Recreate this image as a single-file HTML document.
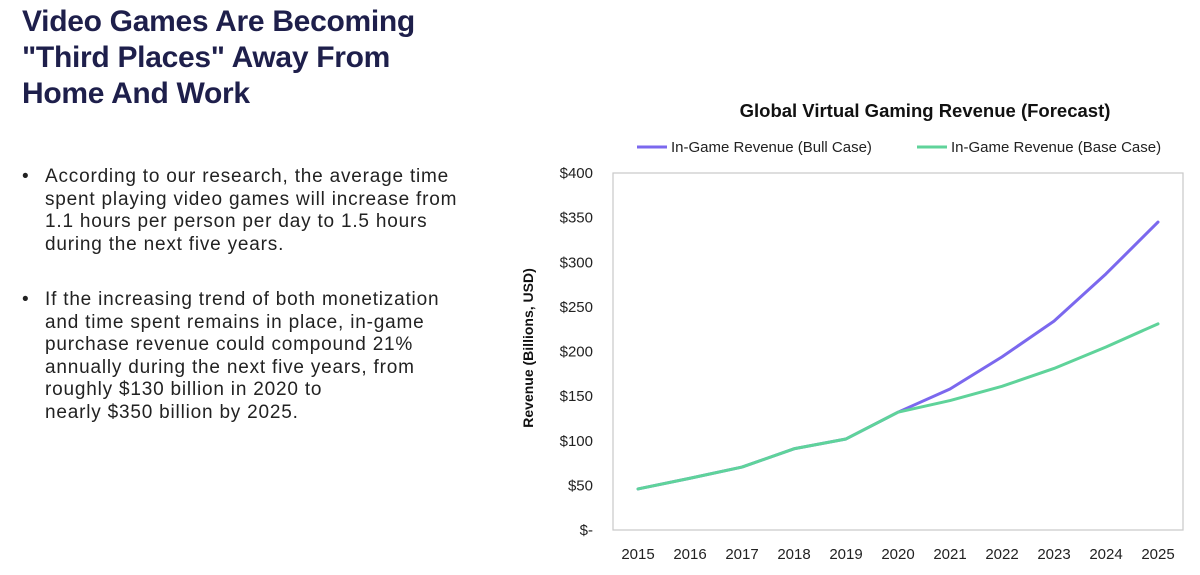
<!DOCTYPE html>
<html><head><meta charset="utf-8"><style>
body{margin:0;width:1200px;height:575px;background:#fff;overflow:hidden;position:relative;font-family:"Liberation Sans",sans-serif;color:#1e1f4b}
h1{position:absolute;left:22px;top:4px;margin:0;font-size:30px;line-height:36px;font-weight:bold;letter-spacing:-0.3px}
.b{position:absolute;left:22px;width:470px;font-size:19px;line-height:22.5px;color:#222;letter-spacing:0.8px;white-space:nowrap}
.b span{position:absolute;left:0}
.b p{margin:0 0 0 23px}
</style></head><body>
<h1>Video Games Are Becoming<br>"Third Places" Away From<br>Home And Work</h1>
<div class="b" style="top:166px"><span>•</span><p>According to our research, the average time<br>spent playing video games will increase from<br>1.1 hours per person per day to 1.5 hours<br>during the next five years.</p></div>
<div class="b" style="top:289px"><span>•</span><p>If the increasing trend of both monetization<br>and time spent remains in place, in-game<br>purchase revenue could compound 21%<br>annually during the next five years, from<br>roughly $130 billion in 2020 to<br>nearly $350 billion by 2025.</p></div>
<svg id="chart" width="1200" height="575" style="position:absolute;left:0;top:0">
<text x="925" y="117" text-anchor="middle" font-size="18.5" font-weight="bold" fill="#111">Global Virtual Gaming Revenue (Forecast)</text>
<line x1="637" y1="147" x2="667" y2="147" stroke="#7b68ee" stroke-width="3"/>
<text x="671" y="152" font-size="15" fill="#222">In-Game Revenue (Bull Case)</text>
<line x1="917" y1="147" x2="947" y2="147" stroke="#5fd39a" stroke-width="3"/>
<text x="951" y="152" font-size="15" fill="#222">In-Game Revenue (Base Case)</text>
<rect x="613" y="173" width="570" height="357" fill="none" stroke="#c8c8c8" stroke-width="1.2"/>
<text transform="translate(533,348) rotate(-90)" text-anchor="middle" font-size="14" font-weight="bold" fill="#111">Revenue (Billions, USD)</text>
<g id="yt"></g><g id="xt"></g><g id="lines"></g>
</svg>
<script>
const years=["2015","2016","2017","2018","2019","2020","2021","2022","2023","2024","2025"];
const bullCase=[46,58,70.5,91,102,132,158,194,234,287,345];
const baseCase=[46,58,70.5,91,102,132,145,161,181,205,231];
const yTicks=[0,50,100,150,200,250,300,350,400];
const yTickLabels=["$-","$50","$100","$150","$200","$250","$300","$350","$400"];
const NS="http://www.w3.org/2000/svg";
const x=i=>638+i*(1158-638)/(years.length-1);
const y=v=>530-v*(530-173)/400;
const yt=document.getElementById('yt'),xt=document.getElementById('xt'),lg=document.getElementById('lines');
yTicks.forEach((v,i)=>{const t=document.createElementNS(NS,'text');


t.setAttribute('x',593);t.setAttribute('y',y(v)+5);t.setAttribute('text-anchor','end');t.setAttribute('font-size','15');t.setAttribute('fill','#222');t.textContent=yTickLabels[i];yt.appendChild(t);});
years.forEach((yr,i)=>{const t=document.createElementNS(NS,'text');


t.setAttribute('x',x(i));t.setAttribute('y',559);t.setAttribute('text-anchor','middle');t.setAttribute('font-size','15');t.setAttribute('fill','#222');t.textContent=yr;xt.appendChild(t);});
function line(arr,color,name){const p=document.createElementNS(NS,'polyline');


p.setAttribute('points',arr.map((v,i)=>x(i)+','+y(v)).join(' '));p.setAttribute('fill','none');p.setAttribute('stroke',color);p.setAttribute('stroke-width','3');p.setAttribute('stroke-linejoin','round');p.setAttribute('stroke-linecap','round');lg.appendChild(p);}
line(bullCase,'#7b68ee','bull-case-line');
line(baseCase,'#5fd39a','base-case-line');
</script>
</body></html>
